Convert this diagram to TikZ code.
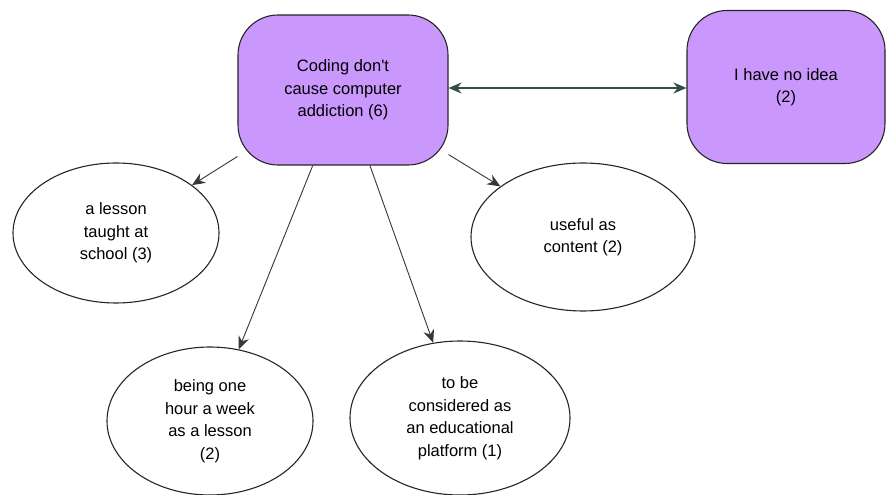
\documentclass[tikz,border=0pt]{standalone}
\usepackage{fontspec}
\setmainfont{Liberation Sans}
\usetikzlibrary{arrows.meta,shapes.geometric}
\definecolor{boxfill}{RGB}{202,152,252}
\definecolor{arrowgray}{RGB}{55,55,55}
\definecolor{linkgreen}{RGB}{47,79,72}
\tikzset{
  purplebox/.style={draw=black!85, line width=1.1pt, fill=boxfill, rounded corners=40pt, align=center, font=\fontsize{16.5}{22.5}\selectfont, inner sep=2pt},
  ovalnode/.style={draw=black!85, line width=1.1pt, fill=white, ellipse, inner sep=0pt, align=center, font=\fontsize{16.5}{22.5}\selectfont},
  link/.style={draw=arrowgray, line width=0.9pt, -{Stealth[length=13pt,width=11pt]}},
  bilink/.style={draw=linkgreen, line width=1.3pt, {Stealth[length=13pt,width=11pt]}-{Stealth[length=13pt,width=11pt]}}
}
\begin{document}
\begin{tikzpicture}[x=1pt,y=1pt]
\useasboundingbox[fill=white] (0,0) rectangle (886,495);
\node[purplebox, minimum width=210pt, minimum height=150pt] (top) at (343,405) {Coding don\textquotesingle t\\cause computer\\addiction (6)};
\node[purplebox, minimum width=198pt, minimum height=153pt] (right) at (786,408) {I have no idea\\(2)};
\node[ovalnode, minimum width=206pt, minimum height=140pt] (lesson) at (116,262) {a lesson\\taught at\\school (3)};
\node[ovalnode, minimum width=224pt, minimum height=148pt] (useful) at (583,258) {useful as\\content (2)};
\node[ovalnode, minimum width=206pt, minimum height=148pt] (being) at (210,74) {being one\\hour a week\\as a lesson\\(2)};
\node[ovalnode, minimum width=220pt, minimum height=154pt] (edu) at (460,77) {to be\\considered as\\an educational\\platform (1)};
\draw[bilink] (top.east |- 0,407) -- (right.west |- 0,407);
\draw[link] (top) -- (lesson);
\draw[link] (top) -- (being);
\draw[link] (top) -- (edu);
\draw[link] (top) -- (useful);
\end{tikzpicture}
\end{document}
